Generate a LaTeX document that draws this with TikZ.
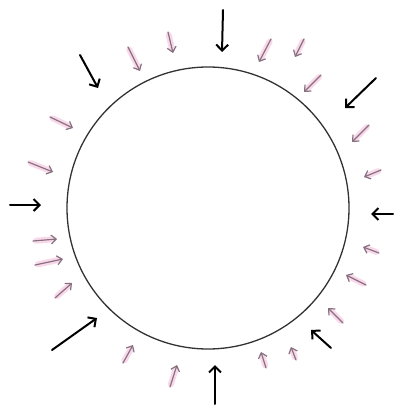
\documentclass[tikz,border=0pt]{standalone}
\usetikzlibrary{arrows.meta}

\definecolor{rimgray}{RGB}{50,50,50}
\definecolor{smallgray}{RGB}{135,112,128}
\definecolor{blush}{RGB}{245,200,224}

\begin{document}
\begin{tikzpicture}[
	x=1pt, y=-1pt,
	rim/.style={
		circle,
		draw=rimgray,
		line width=1.3pt,
		minimum size=282pt,
		inner sep=0pt
	},
	bigarrow/.style={-{Straight Barb[length=6pt, width=12pt]}, line width=2pt, black, line cap=round},
	smallarrow/.style={-{Straight Barb[length=5pt, width=9pt]}, line width=1.2pt, smallgray, line cap=round},
	smudge/.style={line width=6pt, blush, line cap=round, opacity=0.7, shorten <=3pt, shorten >=4pt}
]
	\useasboundingbox (0,0) rectangle (396,406);

	\node[rim] (ring) at (208,208) {};

	% inward pressure, strong
	\foreach \xa/\ya/\xb/\yb in {223/10/222/52, 80/55/98/88, 376/78/345/108, 10/205/41/205,
		393/214/371/214, 52/350/97/318, 215/404/215/365, 331/348/311/330}
		\draw[bigarrow] (\xa,\ya) -- (\xb,\yb);

	% inward pressure, weak
	\foreach \xa/\ya/\xb/\yb in {128/47/140/71, 168/32/173/53, 50/117/73/128, 28/162/53/172,
		271/39/259/62, 304/39/295/57, 321/75/304/92, 369/125/352/142, 381/170/364/177,
		33/241/57/239, 35/265/63/259, 55/298/72/283, 123/363/133/345, 170/387/177/365,
		379/253/363/247, 366/285/346/275, 343/323/328/308, 296/360/291/347, 266/368/261/352}
	{
		\draw[smudge] (\xa,\ya) -- (\xb,\yb);
		\draw[smallarrow] (\xa,\ya) -- (\xb,\yb);
	}

\end{tikzpicture}
\end{document}
